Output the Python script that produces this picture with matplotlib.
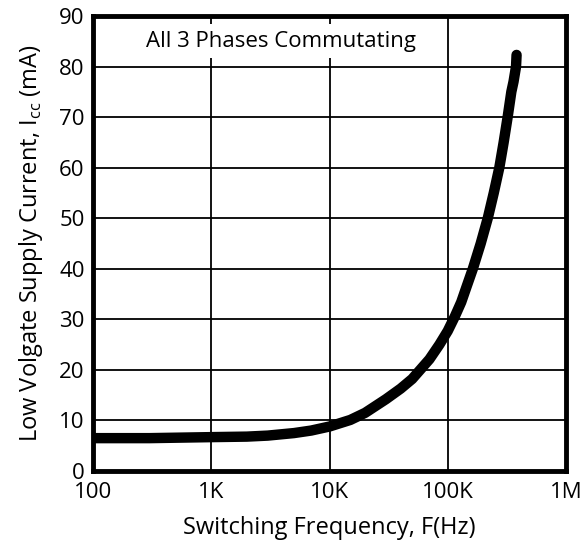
import matplotlib
matplotlib.use("Agg")
import matplotlib.pyplot as plt

# (frequency in Hz, supply current in mA)
freq_hz = [100, 300, 1000, 2000, 3000, 5000, 7000, 10000, 15000, 20000,
           30000, 40000, 50000, 70000, 85000, 100000, 115000, 130000,
           145000, 163000, 190000, 218000, 245000, 273000, 297000, 321000,
           345000, 360000, 378000, 382000]
icc_ma = [6.5, 6.5, 6.7, 6.8, 7.0, 7.5, 8.0, 8.8, 10.1, 11.5,
          14.2, 16.3, 18.2, 22.1, 25.0, 27.7, 30.6, 33.4,
          36.6, 40.0, 45.0, 50.0, 55.0, 60.0, 65.0, 70.0,
          75.0, 77.0, 80.0, 82.3]

x_ticks = [100, 1000, 10000, 100000, 1000000]
x_tick_labels = ["100", "1K", "10K", "100K", "1M"]
y_ticks = [0, 10, 20, 30, 40, 50, 60, 70, 80, 90]

plt.rcParams["font.family"] = ["Open Sans", "DejaVu Sans"]

fig = plt.figure(figsize=(5.85, 5.42), dpi=100)
ax = fig.add_axes([0.159, 0.131, 0.8085, 0.8395])

ax.set_xscale("log")
ax.set_xlim(100, 1e6)
ax.set_ylim(0, 90)
ax.set_xticks(x_ticks)
ax.set_xticklabels(x_tick_labels)
ax.set_yticks(y_ticks)
ax.minorticks_off()
ax.tick_params(length=0, labelsize=16)
ax.tick_params(axis="x", pad=8)
ax.tick_params(axis="y", pad=6)

ax.grid(True, color="black", linewidth=1.3)
ax.set_axisbelow(True)
for s in ax.spines.values():
    s.set_linewidth(3.5)
    s.set_color("black")

ax.plot(freq_hz, icc_ma, color="black", linewidth=7.5,
        solid_capstyle="round", solid_joinstyle="round")

ax.text(0.397, 0.945, "All 3 Phases Commutating", transform=ax.transAxes,
        ha="center", va="center", fontsize=16, color="black",
        bbox=dict(facecolor="white", edgecolor="none", pad=5))

ax.set_xlabel("Switching Frequency, F(Hz)", fontsize=17, labelpad=9)
ax.set_ylabel(r"Low Volgate Supply Current, I$_{\mathregular{cc}}$ (mA)",
              fontsize=17, labelpad=10)

fig.savefig("out.png", dpi=100)
